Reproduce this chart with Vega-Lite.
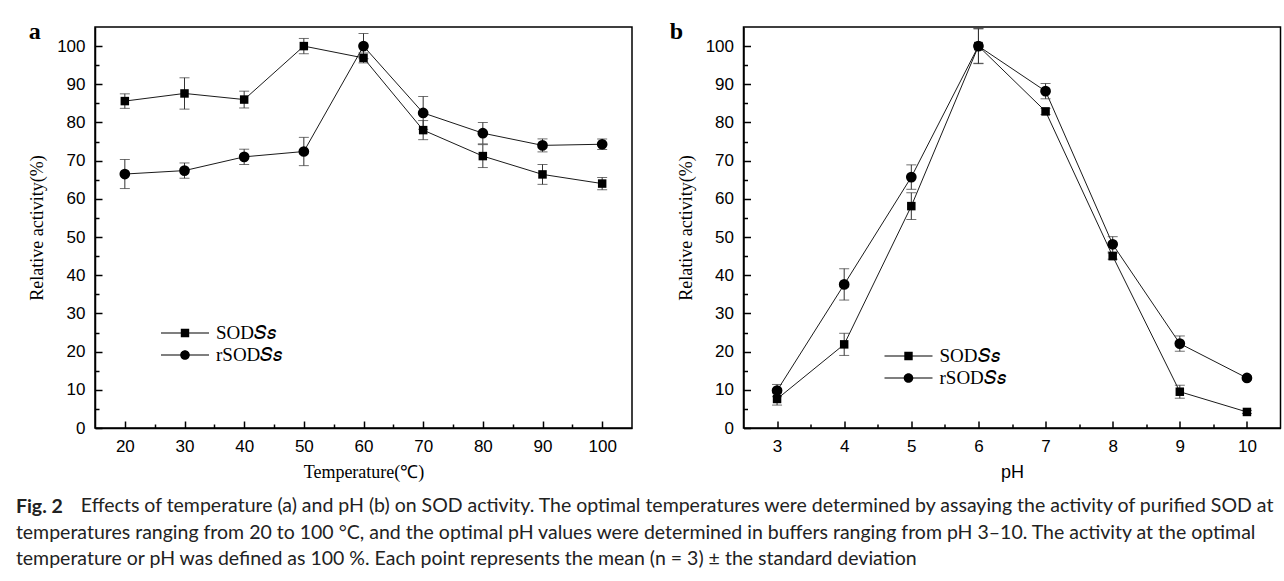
{
  "$schema": "https://vega.github.io/schema/vega-lite/v6.json",
  "padding": {"left": 15, "top": 19, "right": 2, "bottom": 2},
  "background": "white",
  "datasets": {
    "temp": [
      {"temp": 20, "series": "SODSs", "value": 85.6, "sd": 1.9},
      {"temp": 30, "series": "SODSs", "value": 87.6, "sd": 4.1},
      {"temp": 40, "series": "SODSs", "value": 86.0, "sd": 2.2},
      {"temp": 50, "series": "SODSs", "value": 100.0, "sd": 2.0},
      {"temp": 60, "series": "SODSs", "value": 96.9, "sd": 1.3},
      {"temp": 70, "series": "SODSs", "value": 78.0, "sd": 2.5},
      {"temp": 80, "series": "SODSs", "value": 71.2, "sd": 3.0},
      {"temp": 90, "series": "SODSs", "value": 66.4, "sd": 2.6},
      {"temp": 100, "series": "SODSs", "value": 64.0, "sd": 1.6},
      {"temp": 20, "series": "rSODSs", "value": 66.5, "sd": 3.8},
      {"temp": 30, "series": "rSODSs", "value": 67.4, "sd": 2.0},
      {"temp": 40, "series": "rSODSs", "value": 71.0, "sd": 2.0},
      {"temp": 50, "series": "rSODSs", "value": 72.4, "sd": 3.7},
      {"temp": 60, "series": "rSODSs", "value": 100.0, "sd": 3.3},
      {"temp": 70, "series": "rSODSs", "value": 82.5, "sd": 4.3},
      {"temp": 80, "series": "rSODSs", "value": 77.2, "sd": 2.8},
      {"temp": 90, "series": "rSODSs", "value": 74.0, "sd": 1.7},
      {"temp": 100, "series": "rSODSs", "value": 74.3, "sd": 1.4}
    ],
    "ph": [
      {"ph": 3, "series": "SODSs", "value": 7.6, "sd": 1.6},
      {"ph": 4, "series": "SODSs", "value": 21.9, "sd": 2.9},
      {"ph": 5, "series": "SODSs", "value": 58.1, "sd": 3.5},
      {"ph": 6, "series": "SODSs", "value": 100.0, "sd": 4.5},
      {"ph": 7, "series": "SODSs", "value": 82.9, "sd": 0.8},
      {"ph": 8, "series": "SODSs", "value": 45.0, "sd": 0.8},
      {"ph": 9, "series": "SODSs", "value": 9.5, "sd": 1.7},
      {"ph": 10, "series": "SODSs", "value": 4.2, "sd": 0.4},
      {"ph": 3, "series": "rSODSs", "value": 9.8, "sd": 1.6},
      {"ph": 4, "series": "rSODSs", "value": 37.6, "sd": 4.1},
      {"ph": 5, "series": "rSODSs", "value": 65.7, "sd": 3.2},
      {"ph": 6, "series": "rSODSs", "value": 100.0, "sd": 4.6},
      {"ph": 7, "series": "rSODSs", "value": 88.2, "sd": 2.0},
      {"ph": 8, "series": "rSODSs", "value": 48.1, "sd": 2.0},
      {"ph": 9, "series": "rSODSs", "value": 22.1, "sd": 2.0},
      {"ph": 10, "series": "rSODSs", "value": 13.1, "sd": 0.5}
    ]
  },
  "title": {
    "text": "Fig. 2",
    "subtitle": [
      "\u200b\u00a0\u00a0\u00a0\u00a0\u00a0\u00a0\u00a0\u00a0\u00a0\u00a0\u00a0\u00a0\u00a0Effects of temperature (a) and pH (b) on SOD activity. The optimal temperatures were determined by assaying the activity of purified SOD at",
      "temperatures ranging from 20 to 100 °C, and the optimal pH values were determined in buffers ranging from pH 3–10. The activity at the optimal",
      "temperature or pH was defined as 100 %. Each point represents the mean (n = 3) ± the standard deviation"
    ],
    "orient": "bottom",
    "anchor": "start",
    "font": "Lato",
    "fontSize": 19.5,
    "fontWeight": "bold",
    "color": "#222",
    "subtitleFont": "Lato",
    "subtitleFontSize": 19.5,
    "subtitleColor": "#222",
    "subtitleLineHeight": 26.5,
    "subtitlePadding": -20,
    "offset": 16,
    "dx": -12
  },
  "config": {
    "view": {"stroke": "#000", "strokeWidth": 1.5},
    "axis": {
      "grid": false,
      "labelFont": "Liberation Sans",
      "labelFontSize": 17,
      "labelColor": "#000",
      "domainColor": "#000",
      "domainWidth": 1.5,
      "tickColor": "#000",
      "tickWidth": 1.5,
      "tickSize": -7,
      "labelPadding": 17,
      "titleFont": "Liberation Serif",
      "titleFontSize": 18,
      "titleFontWeight": "normal",
      "titleColor": "#000"
    },
    "legend": {
      "labelFont": "Liberation Serif",
      "labelFontSize": 19,
      "labelColor": "#000"
    }
  },
  "spacing": 35.5,
  "hconcat": [
    {
      "width": 537,
      "height": 401,
      "title": {"text": "a", "anchor": "start", "frame": "bounds", "font": "Liberation Serif", "fontWeight": "bold", "fontSize": 24, "offset": -17, "dx": 0, "color": "#000"},
      "data": {"name": "temp"},
      "resolve": {"axis": {"x": "independent", "y": "independent"}, "scale": {"shape": "independent"}},
      "layer": [
        {
          "mark": {"type": "line", "color": "#000", "strokeWidth": 0.9},
          "encoding": {
            "x": {"field": "temp", "type": "quantitative", "scale": {"domain": [15, 105], "nice": false, "zero": false},
                  "axis": {"orient": "bottom", "values": [20, 30, 40, 50, 60, 70, 80, 90, 100], "title": "Temperature(℃)", "titlePadding": 9}},
            "y": {"field": "value", "type": "quantitative", "scale": {"domain": [0, 105], "nice": false},
                  "axis": {"orient": "left", "values": [0, 10, 20, 30, 40, 50, 60, 70, 80, 90, 100], "title": "Relative activity(%)", "titlePadding": 10}},
            "detail": {"field": "series"}
          }
        },
        {
          "mark": {"type": "errorbar", "ticks": {"size": 10, "color": "#333"}, "color": "#333", "thickness": 1},
          "encoding": {
            "x": {"field": "temp", "type": "quantitative", "axis": null},
            "y": {"field": "value", "type": "quantitative", "axis": null},
            "yError": {"field": "sd"}
          }
        },
        {
          "mark": {"type": "point", "filled": true, "color": "#000", "opacity": 1},
          "encoding": {
            "x": {"field": "temp", "type": "quantitative",
                  "axis": {"orient": "bottom", "values": [25, 35, 45, 55, 65, 75, 85, 95], "labels": false, "title": null, "domain": false, "tickSize": -4}},
            "y": {"field": "value", "type": "quantitative",
                  "axis": {"orient": "left", "values": [5, 15, 25, 35, 45, 55, 65, 75, 85, 95], "labels": false, "title": null, "domain": false, "tickSize": -4}},
            "shape": {"field": "series", "type": "nominal", "scale": {"domain": ["SODSs", "rSODSs"], "range": ["square", "circle"]}, "legend": null},
            "size": {"field": "series", "type": "nominal", "scale": {"domain": ["SODSs", "rSODSs"], "range": [72, 115]}, "legend": null}
          }
        },
        {
          "mark": {"type": "point", "filled": true, "color": "#000", "opacity": 0, "size": 10},
          "encoding": {
            "x": {"field": "temp", "type": "quantitative", "axis": null},
            "y": {"field": "value", "type": "quantitative", "axis": null},
            "shape": {"field": "series", "type": "nominal",
                      "scale": {"domain": ["SODSs", "rSODSs"], "range": ["M-2,-0.045H2V0.045H-2ZM-0.35,-0.35H0.35V0.35H-0.35Z", "M-2,-0.045H2V0.045H-2ZM0.4,0A0.4,0.4,0,1,1,-0.4,0A0.4,0.4,0,1,1,0.4,0Z"]},
                      "legend": {"orient": "none", "legendX": 78, "legendY": 294, "title": null, "symbolSize": 576, "symbolOpacity": 1, "symbolFillColor": "#000", "symbolStrokeColor": "#000", "symbolStrokeWidth": 0, "rowPadding": 0, "labelOffset": 19,
                                 "labelExpr": "datum.value == 'SODSs' ? 'SOD𝑆𝑠' : 'rSOD𝑆𝑠'",
                                 "encode": {"symbols": {"update": {"fill": {"value": "#000"}, "fillOpacity": {"value": 1}, "opacity": {"value": 1}}}}}}
          }
        }
      ]
    },
    {
      "width": 537,
      "height": 401,
      "title": {"text": "b", "anchor": "start", "frame": "bounds", "font": "Liberation Serif", "fontWeight": "bold", "fontSize": 24, "offset": -17, "dx": -7.5, "color": "#000"},
      "data": {"name": "ph"},
      "resolve": {"axis": {"x": "independent", "y": "independent"}, "scale": {"shape": "independent"}},
      "layer": [
        {
          "mark": {"type": "line", "color": "#000", "strokeWidth": 0.9},
          "encoding": {
            "x": {"field": "ph", "type": "quantitative", "scale": {"domain": [2.5, 10.5], "nice": false, "zero": false},
                  "axis": {"orient": "bottom", "values": [3, 4, 5, 6, 7, 8, 9, 10], "title": "pH", "titleFont": "Liberation Sans", "titlePadding": 9}},
            "y": {"field": "value", "type": "quantitative", "scale": {"domain": [0, 105], "nice": false},
                  "axis": {"orient": "left", "values": [0, 10, 20, 30, 40, 50, 60, 70, 80, 90, 100], "title": "Relative activity(%)", "titlePadding": 10}},
            "detail": {"field": "series"}
          }
        },
        {
          "mark": {"type": "errorbar", "ticks": {"size": 10, "color": "#333"}, "color": "#333", "thickness": 1},
          "encoding": {
            "x": {"field": "ph", "type": "quantitative", "axis": null},
            "y": {"field": "value", "type": "quantitative", "axis": null},
            "yError": {"field": "sd"}
          }
        },
        {
          "mark": {"type": "point", "filled": true, "color": "#000", "opacity": 1},
          "encoding": {
            "x": {"field": "ph", "type": "quantitative",
                  "axis": {"orient": "bottom", "values": [3.5, 4.5, 5.5, 6.5, 7.5, 8.5, 9.5], "labels": false, "title": null, "domain": false, "tickSize": -4}},
            "y": {"field": "value", "type": "quantitative",
                  "axis": {"orient": "left", "values": [5, 15, 25, 35, 45, 55, 65, 75, 85, 95], "labels": false, "title": null, "domain": false, "tickSize": -4}},
            "shape": {"field": "series", "type": "nominal", "scale": {"domain": ["SODSs", "rSODSs"], "range": ["square", "circle"]}, "legend": null},
            "size": {"field": "series", "type": "nominal", "scale": {"domain": ["SODSs", "rSODSs"], "range": [72, 115]}, "legend": null}
          }
        },
        {
          "mark": {"type": "point", "filled": true, "color": "#000", "opacity": 0, "size": 10},
          "encoding": {
            "x": {"field": "ph", "type": "quantitative", "axis": null},
            "y": {"field": "value", "type": "quantitative", "axis": null},
            "shape": {"field": "series", "type": "nominal",
                      "scale": {"domain": ["SODSs", "rSODSs"], "range": ["M-2,-0.045H2V0.045H-2ZM-0.35,-0.35H0.35V0.35H-0.35Z", "M-2,-0.045H2V0.045H-2ZM0.4,0A0.4,0.4,0,1,1,-0.4,0A0.4,0.4,0,1,1,0.4,0Z"]},
                      "legend": {"orient": "none", "legendX": 153, "legendY": 317, "title": null, "symbolSize": 576, "symbolOpacity": 1, "symbolFillColor": "#000", "symbolStrokeColor": "#000", "symbolStrokeWidth": 0, "rowPadding": 0, "labelOffset": 19,
                                 "labelExpr": "datum.value == 'SODSs' ? 'SOD𝑆𝑠' : 'rSOD𝑆𝑠'",
                                 "encode": {"symbols": {"update": {"fill": {"value": "#000"}, "fillOpacity": {"value": 1}, "opacity": {"value": 1}}}}}}
          }
        }
      ]
    }
  ]
}
